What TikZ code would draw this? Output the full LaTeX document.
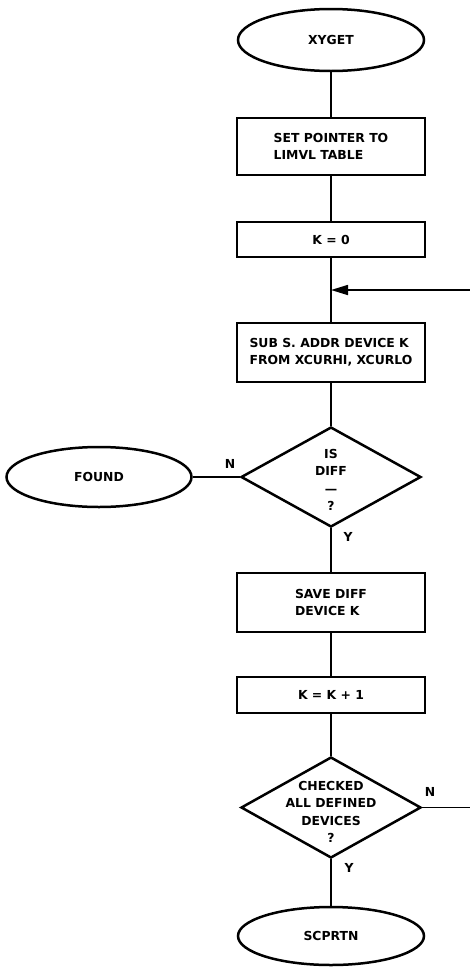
\documentclass[tikz,border=0pt]{standalone}
\usepackage{fontspec}
\setmainfont{DejaVu Sans}
\usetikzlibrary{shapes.geometric,arrows.meta}

\begin{document}
\begin{tikzpicture}[x=1pt,y=-1pt,
  every node/.style={font=\bfseries\fontsize{12.4}{17.5}\selectfont},
  term/.style={draw,ellipse,line width=2.5pt,inner sep=0pt},
  procbox/.style={draw,rectangle,line width=2.5pt,minimum width=188pt,align=left,inner sep=0pt},
  decide/.style={draw,diamond,line width=2.5pt,minimum width=180pt,minimum height=100pt,inner sep=0pt},
  flow/.style={line width=1.6pt}]
\useasboundingbox (0,0) rectangle (469,967);
\node[term,minimum width=186pt,minimum height=62pt] (start) at (331,40) {XYGET};
\node[procbox,minimum height=57pt] (setptr) at (331,146.5) {SET POINTER TO\\LIMVL TABLE};
\node[procbox,minimum height=35pt] (kzero) at (331,239.5) {K = 0};
\coordinate (merge) at (331,290);
\node[procbox,minimum height=59pt] (sub) at (331,352.5) {SUB S. ADDR DEVICE K\\FROM XCURHI, XCURLO};
\node[decide] (isdiff) at (331,477) {};
\node[align=center] at (331,480) {IS\\DIFF\\---\\?};
\node[term,minimum width=185pt,minimum height=60pt] (found) at (99,477) {FOUND};
\node[procbox,minimum height=59pt] (save) at (331,602.5) {SAVE DIFF\\DEVICE K};
\node[procbox,minimum height=36pt] (kinc) at (331,695) {K = K + 1};
\node[decide,minimum height=101pt] (checked) at (331,807.5) {};
\node[align=center] at (331,812) {CHECKED\\ALL DEFINED\\DEVICES\\?};
\node[term,minimum width=186pt,minimum height=58pt] (ret) at (331,936) {SCPRTN};
% connectors
\draw[flow] (start) -- (setptr);
\draw[flow] (setptr) -- (kzero);
\draw[flow] (kzero) -- (sub);
\draw[flow] (sub) -- (isdiff);
\draw[flow] (isdiff.west) -- (found.east);
\draw[flow] (isdiff.south) -- (save.north);
\draw[flow] (save) -- (kinc);
\draw[flow] (kinc) -- (checked.north);
\draw[flow] (checked.south) -- (ret.north);
\draw[flow,-{Triangle[length=17pt,width=10pt]}] (checked.east) -- (474,807.5) |- (merge);
% branch labels
\node at (230,464) {N};
\node at (348,537) {Y};
\node at (430,792) {N};
\node at (349,868) {Y};
\end{tikzpicture}
\end{document}
